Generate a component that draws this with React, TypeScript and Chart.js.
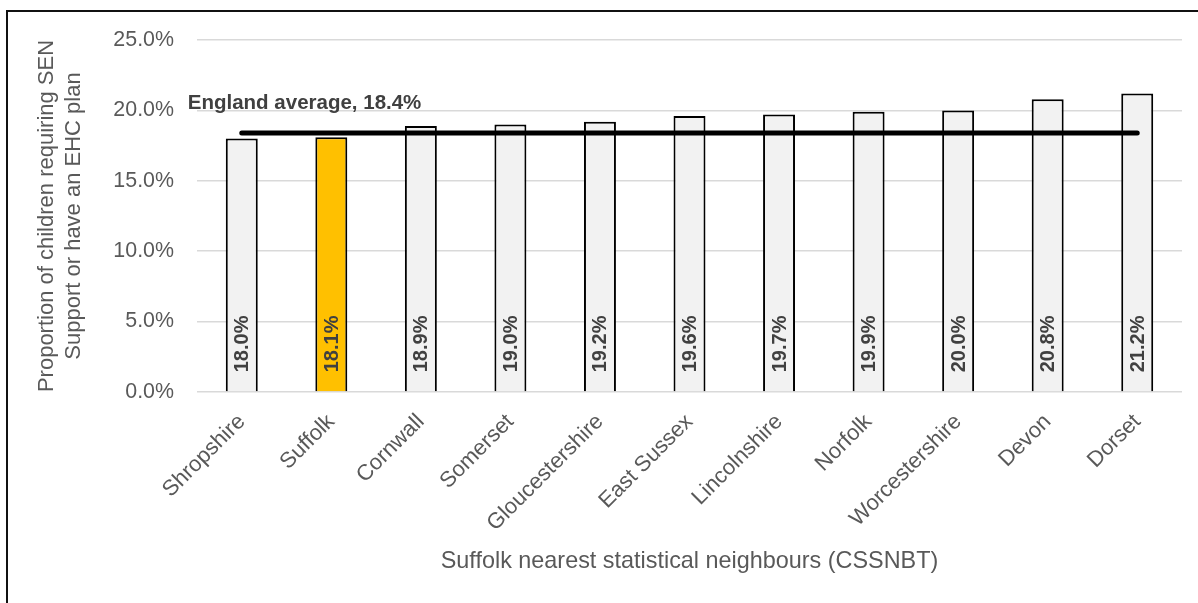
import React, { useEffect, useRef } from "react";
import { Chart, registerables } from "chart.js";

Chart.register(...registerables);

// Suffolk and its nearest statistical neighbours (CSSNBT)
const categories = [
  "Shropshire",
  "Suffolk",
  "Cornwall",
  "Somerset",
  "Gloucestershire",
  "East Sussex",
  "Lincolnshire",
  "Norfolk",
  "Worcestershire",
  "Devon",
  "Dorset",
];

// Share of pupils with SEN support or an EHC plan (%)
const senShare = [18.0, 18.1, 18.9, 19.0, 19.2, 19.6, 19.7, 19.9, 20.0, 20.8, 21.2];

// National comparison value (%)
const englandAverage = 18.4;

const highlighted = "Suffolk";

const yTicks = [0, 5, 10, 15, 20, 25];

const yTitle = ["Proportion of children requiring SEN", "Support or have an EHC plan"];
const xTitle = "Suffolk nearest statistical neighbours (CSSNBT)";

const TEXT_GREY = "#595959";
const LABEL_DARK = "#404040";
const FONT = "'Liberation Sans', Arial, sans-serif";

const fmt = (v: number) => v.toFixed(1) + "%";

// Value labels written upwards inside each bar, from its base
const barValueLabels = {
  id: "barValueLabels",
  afterDatasetsDraw(chart: any) {
    const meta = chart.getDatasetMeta(1);
    const ctx = chart.ctx;
    ctx.save();
    ctx.font = `bold 20px ${FONT}`;
    ctx.fillStyle = LABEL_DARK;
    ctx.textAlign = "left";
    ctx.textBaseline = "middle";
    meta.data.forEach((bar: any, i: number) => {
      ctx.save();
      ctx.translate(bar.x + 1, bar.base - 19);
      ctx.rotate(-Math.PI / 2);
      ctx.fillText(fmt(senShare[i]), 0, 0);
      ctx.restore();
    });
    ctx.restore();
  },
};

// Caption for the England average line
const averageLabel = {
  id: "averageLabel",
  afterDatasetsDraw(chart: any) {
    const ctx = chart.ctx;
    const x = chart.scales.x.getPixelForValue(0) - 54;
    const y = chart.scales.y.getPixelForValue(englandAverage) - 30;
    ctx.save();
    ctx.font = `bold 20.5px ${FONT}`;
    ctx.fillStyle = LABEL_DARK;
    ctx.textAlign = "left";
    ctx.textBaseline = "middle";
    ctx.fillText(`England average, ${fmt(englandAverage)}`, x, y);
    ctx.restore();
  },
};

// Frame around the chart
const frame = {
  id: "frame",
  afterDraw(chart: any) {
    const ctx = chart.ctx;
    ctx.save();
    ctx.fillStyle = "#111111";
    ctx.fillRect(6, 10, 2, chart.height - 10);
    ctx.fillRect(6, 10, chart.width - 6, 2);
    ctx.restore();
  },
};

export default function App() {
  const canvasRef = useRef<HTMLCanvasElement | null>(null);

  useEffect(() => {
    document.body.style.margin = "0";
    const canvas = canvasRef.current;
    if (!canvas) return;

    const chart = new Chart(canvas, {
      type: "bar",
      data: {
        labels: categories,
        datasets: [
          {
            type: "line",
            label: "England average",
            data: categories.map(() => englandAverage),
            borderColor: "#000000",
            borderWidth: 5,
            borderCapStyle: "round",
            pointRadius: 0,
            fill: false,
            order: 0,
          } as any,
          {
            type: "bar",
            label: "SEN support or EHC plan",
            data: senShare,
            backgroundColor: categories.map((c) => (c === highlighted ? "#ffc000" : "#f2f2f2")),
            borderColor: "#000000",
            borderWidth: 2,
            categoryPercentage: 1,
            barPercentage: 0.357,
            order: 1,
          },
        ],
      },
      options: {
        responsive: false,
        animation: false,
        layout: { padding: { left: 10, top: 40, right: 16, bottom: 0 } },
        plugins: {
          legend: { display: false },
          tooltip: { enabled: false },
        },
        scales: {
          x: {
            grid: { display: false },
            border: { display: false },
            ticks: {
              color: TEXT_GREY,
              font: { family: FONT, size: 22 },
              maxRotation: 45,
              minRotation: 45,
              padding: 9,
              autoSkip: false,
            },
            title: {
              display: true,
              text: xTitle,
              color: TEXT_GREY,
              font: { family: FONT, size: 23.4, lineHeight: 1.2 },
              padding: { top: 0, bottom: 27 },
            },
            afterFit(scale: any) {
              scale.height = 211;
            },
          },
          y: {
            min: 0,
            max: 25,
            afterBuildTicks(scale: any) {
              scale.ticks = yTicks.map((v) => ({ value: v }));
            },
            grid: { color: "#d9d9d9", lineWidth: 1.5, drawTicks: false },
            border: { display: false },
            ticks: {
              color: TEXT_GREY,
              font: { family: FONT, size: 21.4 },
              padding: 23,
              callback: (v: any) => fmt(Number(v)),
            },
            title: {
              display: true,
              text: yTitle,
              color: TEXT_GREY,
              font: { family: FONT, size: 22, lineHeight: 1.2 },
              padding: { top: 24, bottom: 0 },
            },
            afterFit(scale: any) {
              scale.width = 187;
            },
          },
        },
      },
      plugins: [barValueLabels, averageLabel, frame],
    });

    return () => chart.destroy();
  }, []);

  return (
    <div style={{ width: 1198, height: 603, background: "#ffffff" }}>
      <canvas ref={canvasRef} width={1198} height={603} style={{ display: "block" }} />
    </div>
  );
}
